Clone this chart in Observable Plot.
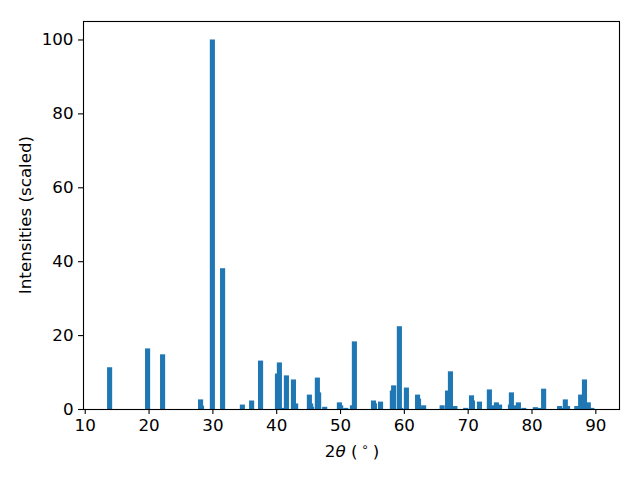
<!DOCTYPE html>
<html>
<head>
<meta charset="utf-8">
<script src="https://cdn.jsdelivr.net/npm/d3@7"></script>
<script src="https://cdn.jsdelivr.net/npm/@observablehq/plot@0.6"></script>
<style>
  html, body { margin: 0; padding: 0; background: #fff; }
  #chart { width: 640px; height: 480px; }
</style>
</head>
<body>
<div id="chart"></div>
<script>
// Peak positions (2θ, degrees) and scaled intensities
const twoTheta = [
  13.9, 19.85, 22.2, 28.15, 28.3, 30.0, 31.6, 34.7, 36.15, 37.55,
  40.2, 40.5, 41.2, 41.6, 42.7, 43.05, 45.2, 45.4, 45.55, 46.45,
  46.65, 47.6, 49.9, 50.1, 50.9, 51.95, 52.25, 55.25, 55.4, 56.35,
  58.2, 58.4, 59.3, 59.5, 60.4, 62.15, 62.3, 63.1, 66.0, 66.85,
  67.3, 68.0, 69.7, 70.6, 70.75, 71.85, 73.4, 73.75, 74.5, 75.0,
  76.7, 76.85, 77.3, 77.95, 78.8, 80.6, 81.1, 81.9, 84.4, 84.75,
  85.3, 85.65, 87.1, 87.7, 88.3, 88.9, 89.45
];
const intensity = [
  11.3, 16.4, 14.8, 2.6, 0.9, 100, 38.1, 1.2, 2.3, 13.1,
  9.6, 12.6, 0.3, 9.1, 8.0, 1.5, 3.9, 1.5, 0.6, 8.5,
  4.5, 0.6, 1.8, 1.0, 0.3, 1.0, 18.3, 2.3, 1.5, 2.0,
  5.0, 6.4, 22.4, 0.3, 5.8, 3.9, 2.8, 1.0, 1.0, 5.0,
  10.2, 0.8, 0.3, 3.7, 2.3, 2.0, 5.3, 1.0, 1.8, 1.2,
  1.2, 4.5, 1.0, 1.8, 0.3, 0.5, 0.3, 5.5, 0.8, 0.3,
  2.6, 0.8, 0.8, 3.9, 8.0, 1.8, 0.3
];
const xTicks = [10, 20, 30, 40, 50, 60, 70, 80, 90];
const yTicks = [0, 20, 40, 60, 80, 100];
const barWidth = 0.8;
const xDomain = [9.73, 93.71];
const yDomain = [0, 105];

const data = twoTheta.map((x, i) => ({x, y: intensity[i]}));
const FS = 16.7;

const plot = Plot.plot({
  width: 640,
  height: 480,
  marginLeft: 83,
  marginRight: 21,
  marginTop: 21,
  marginBottom: 71,
  style: {fontFamily: "DejaVu Sans", fontSize: FS + "px", color: "black", background: "white"},
  x: {domain: xDomain},
  y: {domain: yDomain},
  marks: [
    Plot.rectY(data, {
      x1: d => d.x - barWidth / 2,
      x2: d => d.x + barWidth / 2,
      y1: 0,
      y2: "y",
      fill: "#1f77b4",
      inset: 0
    }),
    Plot.axisX({ticks: xTicks, tickSize: 5, tickPadding: 5, fontSize: FS, label: null, strokeWidth: 1.1}),
    Plot.axisY({ticks: yTicks, tickSize: 5, tickPadding: 5, fontSize: FS, label: null, strokeWidth: 1.1}),
    Plot.frame({stroke: "black", strokeWidth: 1.1})
  ]
});

document.getElementById("chart").appendChild(plot);

const svg = d3.select(plot);
// x label: 2θ (∘)
const xl = svg.append("text")
  .attr("x", 352).attr("y", 457)
  .attr("text-anchor", "middle")
  .attr("font-family", "DejaVu Sans")
  .attr("font-size", FS)
  .attr("fill", "black");
xl.append("tspan").text("2");
xl.append("tspan").attr("font-style", "italic").text("θ");
xl.append("tspan").text(" (");
xl.append("tspan").attr("font-size", 12).attr("dy", -6).text(" ∘ ");
xl.append("tspan").attr("dy", 6).text(")");

// y label
svg.append("text")
  .attr("transform", "translate(31,215) rotate(-90)")
  .attr("text-anchor", "middle")
  .attr("font-family", "DejaVu Sans")
  .attr("font-size", FS)
  .attr("fill", "black")
  .text("Intensities (scaled)");
</script>
</body>
</html>
